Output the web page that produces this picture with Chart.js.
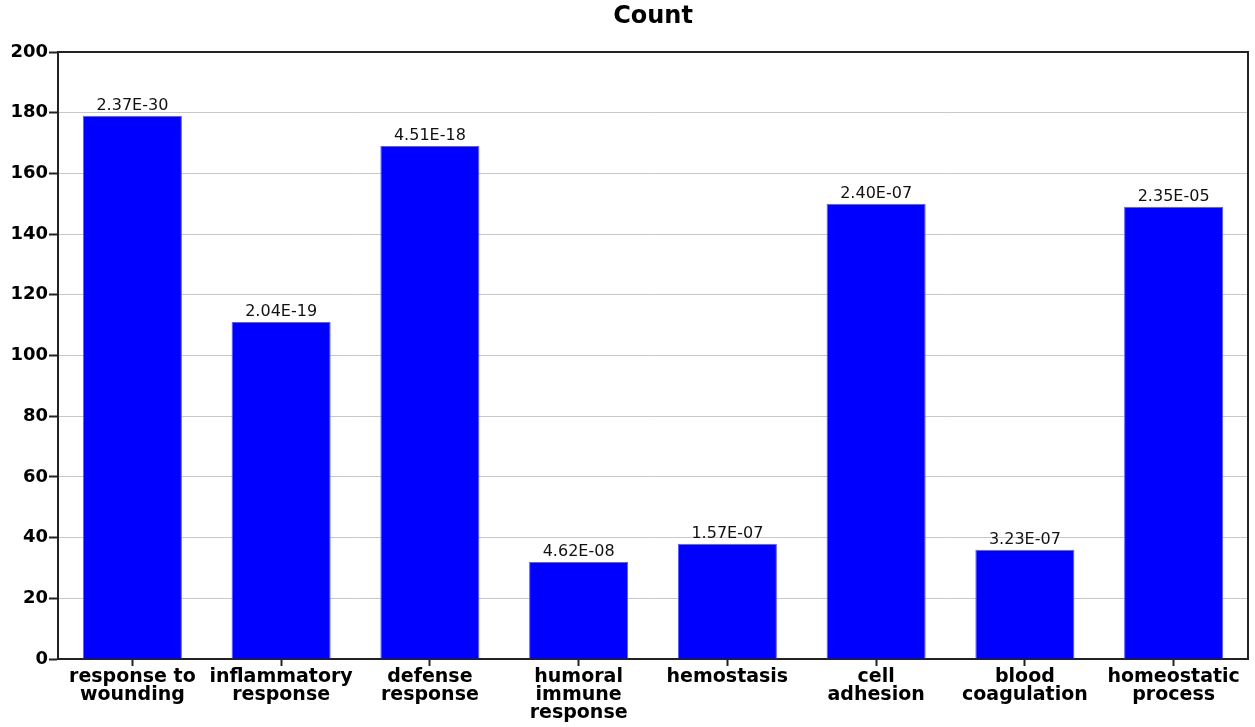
<!DOCTYPE html>
<html>
<head>
<meta charset="utf-8">
<script src="https://cdn.jsdelivr.net/npm/chart.js@4/dist/chart.umd.min.js"></script>
<style>
  html, body { margin: 0; padding: 0; background: #fff; }
  #wrap { width: 1255px; height: 727px; position: relative; }
</style>
</head>
<body>
<div id="wrap"><canvas id="c" width="1255" height="727"></canvas></div>
<script>
// GO terms (multi-line axis labels)
const categories = [
  ['response to', 'wounding'],
  ['inflammatory', 'response'],
  ['defense', 'response'],
  ['humoral', 'immune', 'response'],
  ['hemostasis'],
  ['cell', 'adhesion'],
  ['blood', 'coagulation'],
  ['homeostatic', 'process']
];
// gene counts per term
const counts = [179, 111, 169, 32, 38, 150, 36, 149];
// enrichment p-values shown above each bar
const pValues = ['2.37E-30', '2.04E-19', '4.51E-18', '4.62E-08', '1.57E-07', '2.40E-07', '3.23E-07', '2.35E-05'];
// y axis range
const yMin = 0, yMax = 200, yStep = 20;
const chartTitle = 'Count';

// frame around the plotting area, plus the title centred over it
const frameBox = {
  id: 'frameBox',
  afterDatasetsDraw(chart) {
    const { ctx, chartArea: a } = chart;
    ctx.save();
    ctx.strokeStyle = '#222';
    ctx.lineWidth = 2;
    ctx.beginPath();
    ctx.moveTo(a.left, a.top);
    ctx.lineTo(a.right, a.top);
    ctx.lineTo(a.right, a.bottom);
    ctx.stroke();

    ctx.font = 'bold 24px "DejaVu Sans", sans-serif';
    ctx.fillStyle = '#000';
    ctx.textAlign = 'center';
    ctx.textBaseline = 'middle';
    ctx.fillText(chartTitle, (a.left + a.right) / 2, 17);
    ctx.restore();
  }
};

// p-value text above each bar
const barLabels = {
  id: 'barLabels',
  afterDatasetsDraw(chart) {
    const { ctx } = chart;
    const meta = chart.getDatasetMeta(0);
    ctx.save();
    ctx.font = '16px "DejaVu Sans", sans-serif';
    ctx.fillStyle = '#111';
    ctx.textAlign = 'center';
    ctx.textBaseline = 'bottom';
    meta.data.forEach((bar, i) => {
      ctx.fillText(pValues[i], bar.x, bar.y - 2);
    });
    ctx.restore();
  }
};

new Chart(document.getElementById('c'), {
  type: 'bar',
  data: {
    labels: categories,
    datasets: [{
      label: chartTitle,
      data: counts,
      backgroundColor: '#0000ff',
      borderColor: '#5a5aff',
      borderWidth: 1,
      categoryPercentage: 1.0,
      barPercentage: 0.666
    }]
  },
  options: {
    responsive: false,
    animation: false,
    layout: { padding: { left: 0, right: 7, top: 52, bottom: 0 } },
    plugins: {
      legend: { display: false },
      tooltip: { enabled: false },
      title: { display: false }
    },
    scales: {
      x: {
        offset: true,
        grid: {
          offset: false,
          drawOnChartArea: false,
          tickColor: '#222',
          tickLength: 7,
          tickWidth: 2
        },
        border: { color: '#222', width: 2 },
        ticks: {
          color: '#000',
          maxRotation: 0,
          autoSkip: false,
          padding: 2,
          font: { family: '"DejaVu Sans", sans-serif', size: 19, weight: 'bold', lineHeight: 0.95 }
        },
        afterFit(scale) { scale.height = 68; }
      },
      y: {
        min: yMin,
        max: yMax,
        grid: {
          color: '#c8c8c8',
          lineWidth: 1,
          tickColor: '#222',
          tickLength: 9,
          tickWidth: 2
        },
        border: { color: '#222', width: 2 },
        ticks: {
          stepSize: yStep,
          color: '#000',
          padding: 1,
          font: { family: '"DejaVu Sans", sans-serif', size: 18, weight: 'bold' }
        },
        afterFit(scale) { scale.width = 58; }
      }
    }
  },
  plugins: [frameBox, barLabels]
});
</script>
</body>
</html>
